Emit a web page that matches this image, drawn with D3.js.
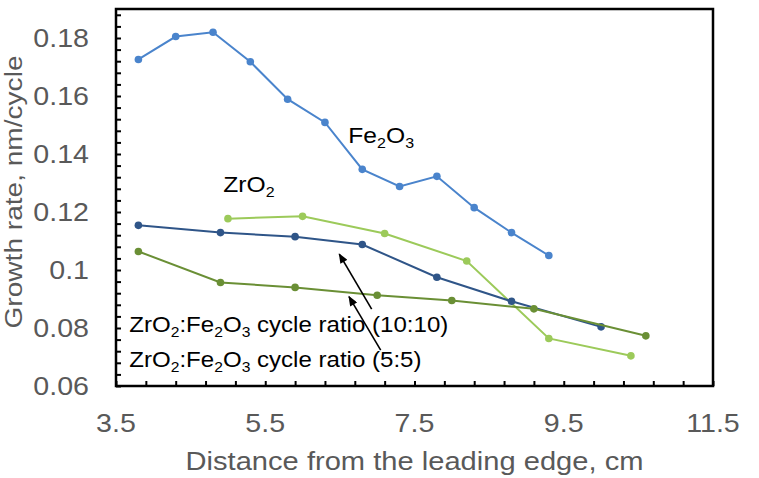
<!DOCTYPE html>
<html>
<head>
<meta charset="utf-8">
<script src="https://cdn.jsdelivr.net/npm/d3@7"></script>
<style>
  body { margin: 0; background: #fff; }
  text { font-family: "Liberation Sans", Arial, sans-serif; }
</style>
</head>
<body>
<svg id="chart" width="759" height="478"></svg>
<script>
// axis ticks / labels
const xTicks = [3.5, 5.5, 7.5, 9.5, 11.5];
const xTickLabels = ['3.5', '5.5', '7.5', '9.5', '11.5'];
const yTicks = [0.06, 0.08, 0.1, 0.12, 0.14, 0.16, 0.18];
const yTickLabels = ['0.06', '0.08', '0.1', '0.12', '0.14', '0.16', '0.18'];

// series values
const fe2o3X = [3.8, 4.3, 4.8, 5.3, 5.8, 6.3, 6.8, 7.3, 7.8, 8.3, 8.8, 9.3];
const fe2o3Y = [0.1726, 0.1805, 0.182, 0.1718, 0.1589, 0.1509, 0.1347, 0.1288, 0.1323, 0.1215, 0.1129, 0.105];

const zro2X = [5.0, 6.0, 7.1, 8.2, 9.3, 10.4];
const zro2Y = [0.1177, 0.1185, 0.1126, 0.1031, 0.0764, 0.0704];

const ratio10X = [3.8, 4.9, 5.9, 6.8, 7.8, 8.8, 10.0];
const ratio10Y = [0.1154, 0.1129, 0.1115, 0.1088, 0.0975, 0.0892, 0.0804];

const ratio5X = [3.8, 4.9, 5.9, 7.0, 8.0, 9.1, 10.6];
const ratio5Y = [0.1064, 0.0957, 0.094, 0.0913, 0.0895, 0.0866, 0.0773];

const W = 759, H = 478;
const margin = {left: 116, right: 46, top: 9, bottom: 92};

const svg = d3.select('#chart');
const x = d3.scaleLinear().domain([3.5, 11.5]).range([margin.left, W - margin.right]);
const y = d3.scaleLinear().domain([0.06, 0.19]).range([H - margin.bottom, margin.top]);

const colorFor = k => k === 'fe' ? '#4a84cc' : k === 'zr' ? '#9cca5a' : k === 'r10' ? '#2f5588' : '#6a8f35';

const series = [
    {key: 'fe', xs: fe2o3X, ys: fe2o3Y},
    {key: 'zr', xs: zro2X, ys: zro2Y},
    {key: 'r10', xs: ratio10X, ys: ratio10Y},
    {key: 'r5', xs: ratio5X, ys: ratio5Y}
];

// stretched text helper, parts = [[str, isSub], ...]
// (the source font runs wider than Liberation Sans, so text is scaled along its run)
function label(parent, px, py, parts, size, opts = {}) {
    const t = parent.append('text')
        .attr('transform', `translate(${px},${py}) rotate(${opts.rotate || 0}) scale(${opts.stretch || 1.12},1)`)
        .attr('font-size', size)
        .attr('fill', opts.fill || '#000')
        .attr('text-anchor', opts.anchor || 'start');
    if (opts.dy) t.attr('dy', opts.dy);
    let shifted = false;
    parts.forEach(([s, sub]) => {
        const ts = t.append('tspan').text(s);
        if (sub && !shifted) { ts.attr('font-size', size * 0.65).attr('dy', size * 0.22); shifted = true; }
        else if (sub) { ts.attr('font-size', size * 0.65); }
        else if (!sub && shifted) { ts.attr('dy', -size * 0.22); shifted = false; }
    });
    return t;
}

// minor ticks (inside the frame)
const xMinor = d3.range(0, 21).map(i => 3.5 + i * 0.4);
const yMinor = d3.range(0, 33).map(i => 0.06 + i * 0.004);

svg.append('g')
    .attr('transform', `translate(0,${y(0.06)})`)
    .call(d3.axisBottom(x).tickValues(xMinor).tickSize(-5).tickFormat(''))
    .call(g => g.select('.domain').remove())
    .selectAll('line').attr('stroke', '#000').attr('stroke-width', 2);

svg.append('g')
    .attr('transform', `translate(${x(3.5)},0)`)
    .call(d3.axisLeft(y).tickValues(yMinor).tickSize(-5).tickFormat(''))
    .call(g => g.select('.domain').remove())
    .selectAll('line').attr('stroke', '#000').attr('stroke-width', 2);

// frame
svg.append('rect')
    .attr('x', x(3.5)).attr('y', y(0.19))
    .attr('width', x(11.5) - x(3.5)).attr('height', y(0.06) - y(0.19))
    .attr('fill', 'none').attr('stroke', '#000').attr('stroke-width', 2.5);

// tick labels
xTicks.forEach((v, i) => label(svg, x(v), y(0.06) + 46, [[xTickLabels[i]]], 26, {anchor: 'middle', fill: '#595959', stretch: 1.1}));
yTicks.forEach((v, i) => label(svg, 89, y(v), [[yTickLabels[i]]], 26, {anchor: 'end', fill: '#595959', dy: '0.36em', stretch: 1.1}));

// axis titles
label(svg, (x(3.5) + x(11.5)) / 2, 470, [['Distance from the leading edge, cm']], 26, {anchor: 'middle', fill: '#595959'});
label(svg, 22, 192, [['Growth rate, nm/cycle']], 24, {anchor: 'middle', fill: '#595959', rotate: -90, stretch: 1.17});

// lines + markers
const line = d3.line().x(d => x(d[0])).y(d => y(d[1]));
series.forEach(s => {
    const pts = s.xs.map((v, i) => [v, s.ys[i]]);
    const g = svg.append('g');
    g.append('path').attr('d', line(pts))
        .attr('fill', 'none').attr('stroke', colorFor(s.key)).attr('stroke-width', 2);
    g.selectAll('circle').data(pts).join('circle')
        .attr('cx', d => x(d[0])).attr('cy', d => y(d[1])).attr('r', 3.8)
        .attr('fill', colorFor(s.key));
});

// annotations
const notes = [
    {x: 6.613, y: 0.1437, size: 22, parts: [['Fe'], ['2', true], ['O'], ['3', true]]},
    {x: 4.938, y: 0.127, size: 22, parts: [['ZrO'], ['2', true]]},
    {x: 3.678, y: 0.0786, size: 21.5, parts: [['ZrO'], ['2', true], [':Fe'], ['2', true], ['O'], ['3', true], [' cycle ratio (10:10)']]},
    {x: 3.678, y: 0.0666, size: 21.5, parts: [['ZrO'], ['2', true], [':Fe'], ['2', true], ['O'], ['3', true], [' cycle ratio (5:5)']]}
];
notes.forEach(n => label(svg, x(n.x), y(n.y), n.parts, n.size));

svg.append('defs').append('marker')
    .attr('id', 'arrow').attr('viewBox', '0 0 10 8')
    .attr('refX', 9).attr('refY', 4)
    .attr('markerWidth', 11).attr('markerHeight', 8)
    .attr('markerUnits', 'userSpaceOnUse').attr('orient', 'auto')
    .append('path').attr('d', 'M0,0 L10,4 L0,8 z').attr('fill', '#000');

const arrows = [
    {x1: 6.926, y1: 0.0865, x2: 6.492, y2: 0.1055},
    {x1: 7.047, y1: 0.0724, x2: 6.622, y2: 0.0908}
];
svg.selectAll('.arrow').data(arrows).join('line')
    .attr('class', 'arrow')
    .attr('x1', d => x(d.x1)).attr('y1', d => y(d.y1))
    .attr('x2', d => x(d.x2)).attr('y2', d => y(d.y2))
    .attr('stroke', '#000').attr('stroke-width', 1.6)
    .attr('marker-end', 'url(#arrow)');
</script>
</body>
</html>
